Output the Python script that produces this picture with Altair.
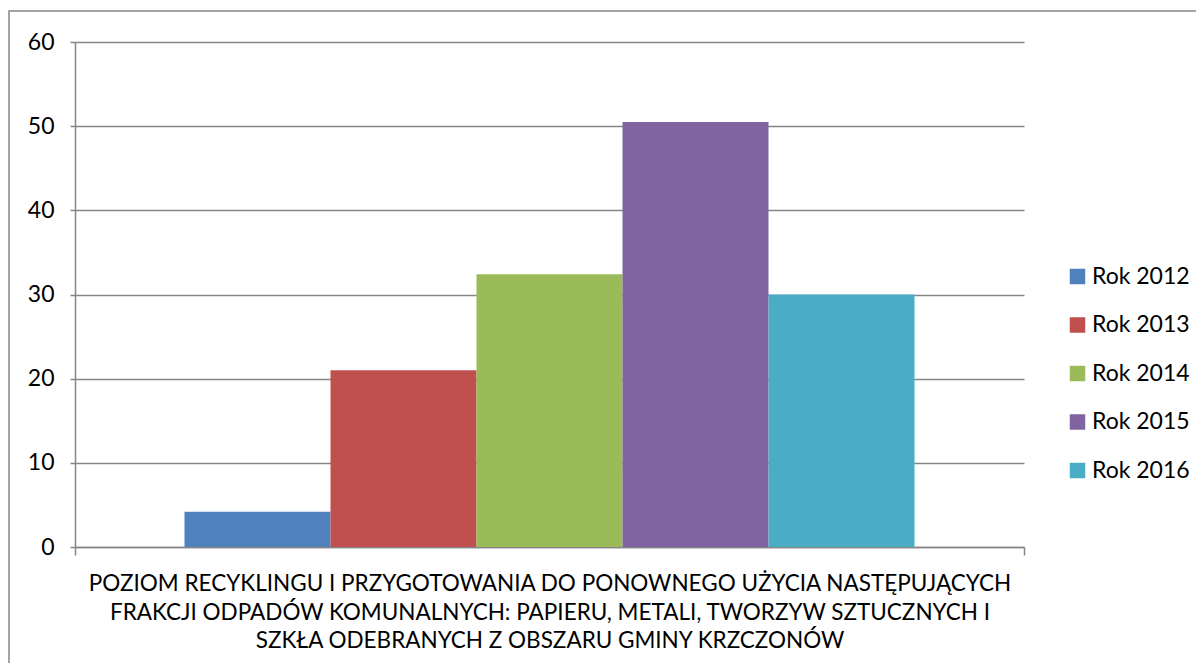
import altair as alt
import pandas as pd

years = ["Rok 2012", "Rok 2013", "Rok 2014", "Rok 2015", "Rok 2016"]
values = [4.2, 21.0, 32.4, 50.5, 30.0]
colors = ["#4F81BD", "#C0504D", "#9BBB59", "#8064A2", "#4BACC6"]
category = "POZIOM RECYKLINGU"
title_lines = [
    "POZIOM RECYKLINGU I PRZYGOTOWANIA DO PONOWNEGO UŻYCIA NASTĘPUJĄCYCH",
    "FRAKCJI ODPADÓW KOMUNALNYCH: PAPIERU, METALI, TWORZYW SZTUCZNYCH I",
    "SZKŁA ODEBRANYCH Z OBSZARU GMINY KRZCZONÓW",
]
y_ticks = [0, 10, 20, 30, 40, 50, 60]

FONT = "Lato"
GRAY = "#868686"

df = pd.DataFrame({"kat": [category] * len(years), "rok": years, "wartosc": values})

bars = alt.Chart(df).mark_bar().encode(
    x=alt.X(
        "kat:N",
        scale=alt.Scale(paddingInner=0, paddingOuter=0),
        axis=alt.Axis(
            labels=False,
            title=title_lines,
            tickBand="extent",
            ticks=True,
            tickSize=8,
            tickColor=GRAY,
            tickWidth=1.5,
            domainColor=GRAY,
            domainWidth=1.5,
            grid=False,
            titleFont=FONT,
            titleFontSize=22.5,
            titleFontWeight="normal",
            titleColor="#000000",
            titleLineHeight=28.5,
            titlePadding=17,
        ),
    ),
    xOffset=alt.XOffset("rok:N", scale=alt.Scale(domain=years, paddingInner=0, paddingOuter=0.75)),
    y=alt.Y(
        "wartosc:Q",
        scale=alt.Scale(domain=[0, 60], nice=False),
        axis=alt.Axis(
            values=y_ticks,
            title=None,
            grid=True,
            gridColor=GRAY,
            gridWidth=1.5,
            domainColor=GRAY,
            domainWidth=1.5,
            tickColor=GRAY,
            tickWidth=1.5,
            tickSize=5,
            labelFont=FONT,
            labelFontSize=23,
            labelColor="#000000",
            labelPadding=16,
        ),
    ),
    color=alt.Color(
        "rok:N",
        scale=alt.Scale(domain=years, range=colors),
        legend=alt.Legend(
            title=None,
            orient="none",
            legendX=991,
            legendY=223,
            symbolType="square",
            symbolSize=240,
            symbolStrokeWidth=0,
            labelFont=FONT,
            labelFontSize=23,
            labelColor="#000000",
            labelOffset=3,
            rowPadding=24.5,
        ),
    ),
)

frame = alt.Chart(alt.Data(values=[{}])).mark_rect(
    fill="transparent", stroke=GRAY, strokeWidth=1.5
).encode(
    x=alt.value(-66), x2=alt.value(1128), y=alt.value(-31), y2=alt.value(650)
)

chart = alt.layer(frame, bars).properties(
    width=949,
    height=505,
    autosize=alt.AutoSizeParams(type="none"),
    padding={"left": 67, "top": 34, "right": 172, "bottom": 116},
).configure_view(stroke=None)

chart.save("out.html", embed_options={"renderer": "svg", "actions": False})
